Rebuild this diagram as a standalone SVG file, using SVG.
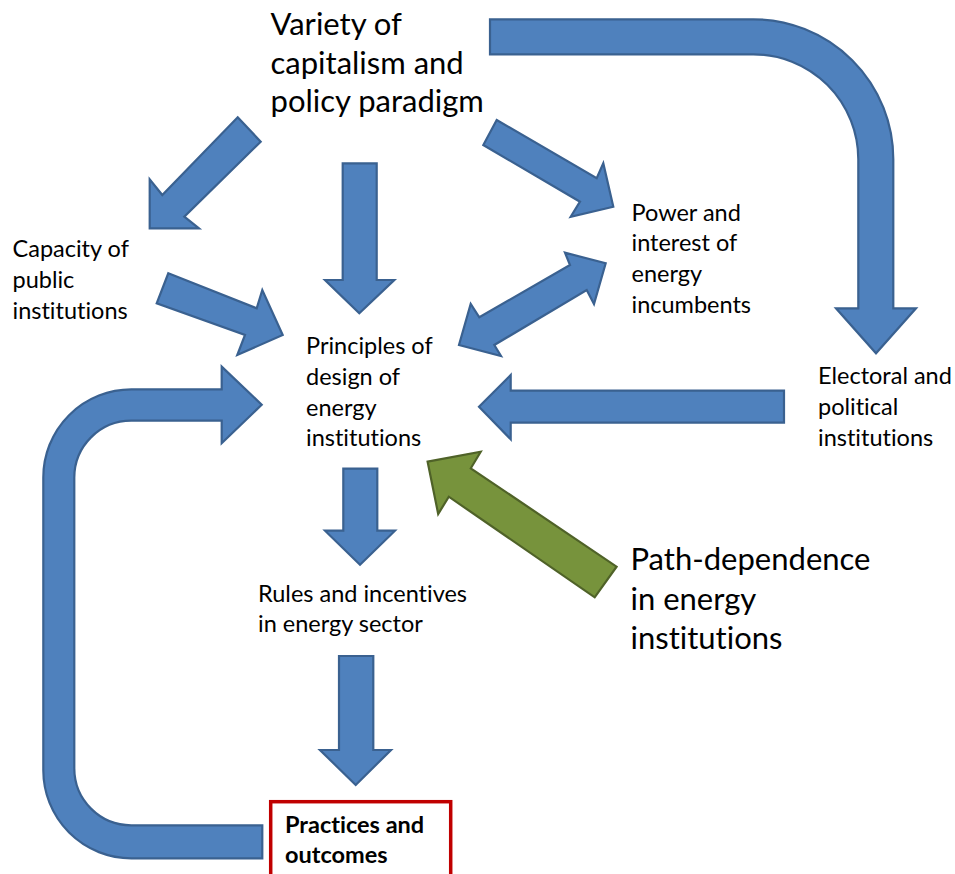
<svg xmlns="http://www.w3.org/2000/svg" width="955" height="874" viewBox="0 0 955 874">
<style>
.blue{fill:#4F81BD;stroke:#3A6190;stroke-width:2.2;stroke-linejoin:miter}
.green{fill:#77933C;stroke:#4F6228;stroke-width:2.2;stroke-linejoin:miter}
text{font-family:Lato,"Open Sans","Liberation Sans",sans-serif;fill:#000;font-variant-ligatures:none;font-feature-settings:"liga" 0,"clig" 0}
.s{font-size:23.5px}
.b{font-size:31px}
.bold{font-size:23.5px;font-weight:bold}
</style>
<rect width="955" height="874" fill="#fff"/>
<g id="connectors">
<path id="c-top-right" class="blue" d="M490,19.3 L753,19.3 A140,140 0 0 1 893.3,159.3 L893.3,308.3 L916,308.3 L876,353.3 L836,308.3 L858.3,308.3 L858.3,159.3 A105,105 0 0 0 753.3,54.3 L490,54.3 Z"/>
<polygon id="c-to-capacity" class="blue" points="237.7,117.3 260.7,141.7 184.3,216.7 199,228.3 149.7,228.3 149.7,179.3 162.3,195"/>
<polygon id="c-to-principles" class="blue" points="342.7,163.3 376.7,163.3 376.7,280 394.3,280 359.3,313.3 325,280 342.7,280"/>
<polygon id="c-to-power" class="blue" points="496.7,120 596.7,178.3 603.3,163.3 613.3,206.7 570.7,216.7 580,201.7 483.3,145"/>
<polygon id="c-capacity-principles" class="blue" points="168.3,273.3 256.7,308.3 262.3,290 282.7,335 237.3,355 245,335 156.7,303.3"/>
<polygon id="c-power-principles" class="blue" points="605.7,263.3 594,304 586.7,290 494.3,345 501,356 459,345 470.7,304 479.3,317.3 570,265 565,252.7"/>
<polygon id="c-electoral-principles" class="blue" points="784,390.7 784,422.7 510.7,422.7 510.7,439.3 479,406.7 510.7,375 510.7,390.7"/>
<path id="c-loop" class="blue" d="M221.7,389.4 L131.3,389.4 A88,88 0 0 0 43.3,477.4 L43.3,770.3 A88,88 0 0 0 131.3,858.3 L262.3,858.3 L262.3,825.3 L131.3,825.3 A57,57 0 0 1 74.3,768.3 L74.3,477.7 A57,57 0 0 1 131.3,420.7 L221.7,420.7 L221.7,443.2 L261.7,404.7 L221.7,366.6 Z"/>
<polygon id="c-principles-rules" class="blue" points="343.3,468.7 377.3,468.7 377.3,530.7 395,530.7 360,564.8 325,530.7 343.3,530.7"/>
<polygon id="c-rules-practices" class="blue" points="339,656 373.3,656 373.3,750 391,750 355.7,785 320,750 339,750"/>
<polygon id="c-path-principles" class="green" points="427.6,461.7 480.7,451.7 470.8,468.3 616.6,566.7 594.7,597.3 448.8,496.7 438.2,514"/>
</g>
<g id="n-variety">
<text class="b" x="270.5" y="35">Variety of</text>
<text class="b" x="270.5" y="73.5">capitalism and</text>
<text class="b" x="270.5" y="111.5">policy paradigm</text>
</g>
<g id="n-capacity">
<text class="s" x="12.5" y="256.5">Capacity of</text>
<text class="s" x="12.5" y="287.5">public</text>
<text class="s" x="12.5" y="318.5">institutions</text>
</g>
<g id="n-power">
<text class="s" x="631.5" y="220.5">Power and</text>
<text class="s" x="631.5" y="251">interest of</text>
<text class="s" x="631.5" y="282">energy</text>
<text class="s" x="631.5" y="313">incumbents</text>
</g>
<g id="n-principles">
<text class="s" x="306" y="353.5">Principles of</text>
<text class="s" x="306" y="384.5">design of</text>
<text class="s" x="306" y="415.5">energy</text>
<text class="s" x="306" y="446">institutions</text>
</g>
<g id="n-electoral">
<text class="s" x="818" y="384">Electoral and</text>
<text class="s" x="818" y="415">political</text>
<text class="s" x="818" y="445.5">institutions</text>
</g>
<g id="n-rules">
<text class="s" x="258" y="601.5">Rules and incentives</text>
<text class="s" x="258" y="632">in energy sector</text>
</g>
<g id="n-path">
<text class="b" x="630.5" y="569.5">Path-dependence</text>
<text class="b" x="630.5" y="609.5">in energy</text>
<text class="b" x="630.5" y="648.5">institutions</text>
</g>
<g id="n-practices">
<rect x="270.7" y="801.7" width="180" height="80" fill="#fff" stroke="#C00000" stroke-width="3.5"/>
<text class="bold" x="285" y="832.7">Practices and</text>
<text class="bold" x="285" y="862.7">outcomes</text>
</g>
</svg>
